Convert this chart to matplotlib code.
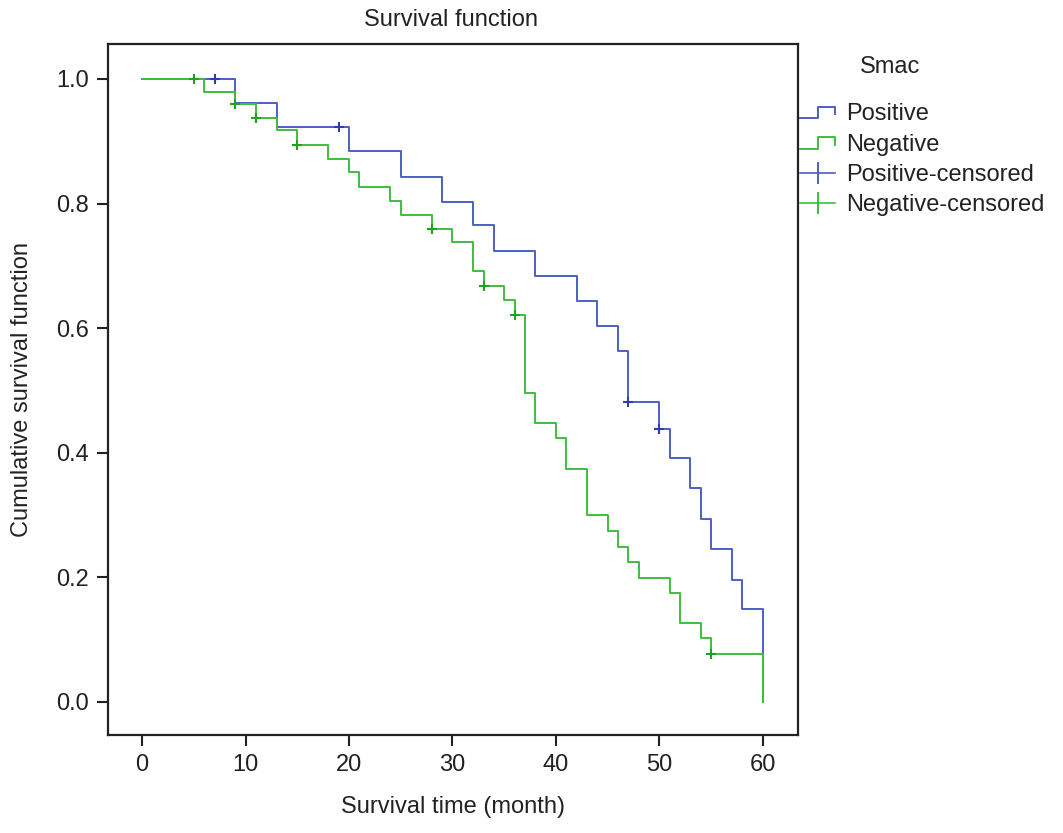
import numpy as np
import matplotlib
matplotlib.use("Agg")
import matplotlib.pyplot as plt
from matplotlib.lines import Line2D
from matplotlib.legend_handler import HandlerBase

plt.rcParams['font.family'] = ['Liberation Sans', 'DejaVu Sans']

# Kaplan-Meier steps (months, cumulative survival)
pos_time = [0, 9, 13, 20, 25, 29, 32, 34, 38, 42, 44, 46, 47, 50, 51, 53, 54, 55, 57, 58, 60]
pos_surv = [1.0, 0.961, 0.923, 0.884, 0.843, 0.803, 0.766, 0.724, 0.684, 0.644, 0.604,
            0.563, 0.482, 0.438, 0.392, 0.343, 0.294, 0.246, 0.196, 0.149, 0.0]
pos_cens_time = [7, 19, 47, 50]
pos_cens_surv = [1.0, 0.923, 0.482, 0.438]

neg_time = [0, 6, 9, 11, 13, 15, 18, 20, 21, 24, 25, 28, 30, 32, 33, 35, 36, 37, 38, 40,
            41, 43, 45, 46, 47, 48, 51, 52, 54, 55, 60]
neg_surv = [1.0, 0.979, 0.960, 0.937, 0.918, 0.894, 0.872, 0.851, 0.827, 0.804, 0.782,
            0.759, 0.738, 0.692, 0.668, 0.645, 0.621, 0.496, 0.448, 0.424, 0.374, 0.300,
            0.274, 0.249, 0.225, 0.199, 0.175, 0.127, 0.103, 0.077, 0.0]
neg_cens_time = [5, 9, 11, 15, 28, 33, 36, 55]
neg_cens_surv = [1.0, 0.960, 0.937, 0.894, 0.759, 0.668, 0.621, 0.077]

labels = ["Positive", "Negative", "Positive-censored", "Negative-censored"]
xticks = [0, 10, 20, 30, 40, 50, 60]
yticks = [0.0, 0.2, 0.4, 0.6, 0.8, 1.0]

blue = '#4f5ec6'
green = '#3dbf3d'
blue_dark = '#2f3ea8'
green_dark = '#22a022'
txt = '#222222'
fs = 17


class StepHandler(HandlerBase):
    # legend symbol shaped like a little survival step
    def create_artists(self, legend, orig_handle, xdescent, ydescent, width, height, fontsize, trans):
        xs = np.array([0, 0.5, 0.5, 1.0, 1.0]) * width - xdescent
        ys = np.array([0.1, 0.1, 0.8, 0.8, 0.35]) * height - ydescent
        line = Line2D(xs, ys, color=orig_handle.get_color(), lw=1.4)
        line.set_transform(trans)
        return [line]


fig = plt.figure(figsize=(10.63, 8.33), dpi=100)
ax = fig.add_axes([108/1063, 98/833, 690/1063, 691/833])

ax.step(pos_time, pos_surv, where='post', color=blue, lw=1.4, zorder=2)
ax.step(neg_time, neg_surv, where='post', color=green, lw=1.4, zorder=3)
ax.plot(pos_cens_time, pos_cens_surv, ls='none', marker='+', ms=7, mew=1.5, color=blue_dark, zorder=4)
ax.plot(neg_cens_time, neg_cens_surv, ls='none', marker='+', ms=7, mew=1.5, color=green_dark, zorder=4)

ax.set_xlim(-3.3, 63.4)
ax.set_ylim(-0.053, 1.056)
ax.set_xticks(xticks)
ax.set_yticks(yticks)
ax.set_yticklabels([f"{v:.1f}" for v in yticks])
ax.tick_params(direction='out', length=8, width=1.5, colors=txt, labelsize=fs, pad=6)
for s in ax.spines.values():
    s.set_linewidth(1.6)
    s.set_color('#222222')

ax.set_xlabel("Survival time (month)", fontsize=fs, color=txt)
ax.set_ylabel("Cumulative survival function", fontsize=fs, color=txt)
ax.xaxis.set_label_coords(0.5, -0.088)
ax.yaxis.set_label_coords(-0.108, 0.5)

fig.text(451/1063, 1 - 20/833, "Survival function", ha='center', va='center', fontsize=fs, color=txt)
fig.text(860/1063, 1 - 67/833, "Smac", ha='left', va='center', fontsize=fs, color=txt)

h_pos = Line2D([], [], color=blue)
h_neg = Line2D([], [], color=green)
h_pc = Line2D([], [], color=blue, lw=1.2, marker='|', ms=16, mew=1.4)
h_nc = Line2D([], [], color=green, lw=1.2, marker='|', ms=16, mew=1.4)
leg = fig.legend([h_pos, h_neg, h_pc, h_nc], labels, loc='upper left',
                 bbox_to_anchor=(800/1063, 1 - 103/833), frameon=False, fontsize=fs,
                 handlelength=1.5, handletextpad=0.45, borderpad=0, borderaxespad=0,
                 labelspacing=0.36, numpoints=1,
                 handler_map={h_pos: StepHandler(), h_neg: StepHandler()})
for t in leg.get_texts():
    t.set_color(txt)

fig.savefig("out.png", dpi=100)
